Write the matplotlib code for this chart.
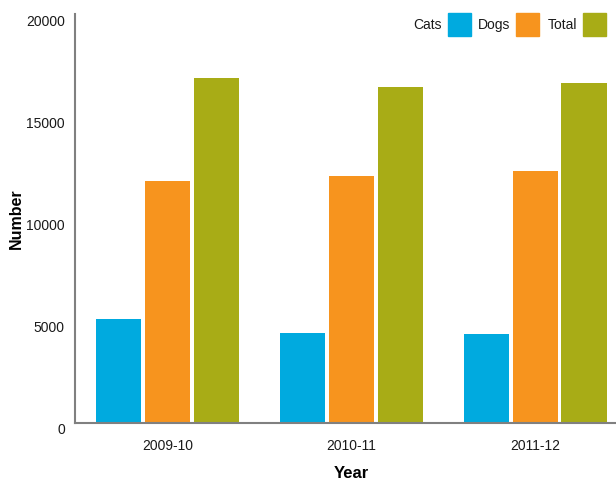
import numpy as np
import matplotlib.pyplot as plt
from matplotlib.patches import Rectangle
from matplotlib.transforms import ScaledTranslation

plt.rcParams['font.family'] = ['Liberation Sans', 'DejaVu Sans']

years = ["2009-10", "2010-11", "2011-12"]
cats = [5080, 4390, 4345]
dogs = [11840, 12085, 12330]
total = [16885, 16445, 16640]

series = [("Cats", cats, "#00aadf"),
          ("Dogs", dogs, "#f7941e"),
          ("Total", total, "#a8ac16")]

W, H = 616, 482
fig = plt.figure(figsize=(W / 100, H / 100), dpi=100)
ax = fig.add_axes([0.121, 0.123, 0.879, 0.847])

x = np.arange(len(years))
width = 0.245
step = 0.266
for i, (name, vals, col) in enumerate(series):
    ax.bar(x + (i - 1) * step, vals, width, color=col, label=name)

ax.set_xlim(-0.505, 2.44)
ax.set_ylim(0, 20000)
ax.set_yticks([0, 5000, 10000, 15000, 20000])
ax.set_xticks(x)
ax.set_xticklabels(years)

for s in ["top", "right"]:
    ax.spines[s].set_visible(False)
for s in ["left", "bottom"]:
    ax.spines[s].set_color("#808080")
    ax.spines[s].set_linewidth(1.5)

ax.tick_params(axis="both", length=0, labelsize=10, colors="#1a1a1a")
ax.tick_params(axis="x", pad=12)
ax.tick_params(axis="y", pad=7)
# nudge y tick labels down a bit
off = ScaledTranslation(0, -4 / 72, fig.dpi_scale_trans)
for lab in ax.get_yticklabels():
    lab.set_transform(lab.get_transform() + off)

ax.set_xlabel("Year", fontsize=12, fontweight="bold")
ax.set_ylabel("Number", fontsize=11.5, fontweight="bold")
ax.xaxis.set_label_coords(0.5 + (351 - 74.5 - 270.75) / 541.5, -0.1256)
ax.xaxis.label.set_va("center")
ax.yaxis.set_label_coords(-0.108, 0.5)
ax.yaxis.label.set_va("center")

# legend: label text to the left of each colour square
sq_left = [448, 516, 583]
sq = 23
for (name, _, col), x0 in zip(series, sq_left):
    fig.patches.append(Rectangle((x0 / W, 1 - 36 / H), sq / W, sq / H,
                                 transform=fig.transFigure, color=col))
    fig.text((x0 - 6) / W, 1 - 25 / H, name, ha="right", va="center",
             fontsize=10, color="#1a1a1a")

fig.savefig("out.png", dpi=100)
